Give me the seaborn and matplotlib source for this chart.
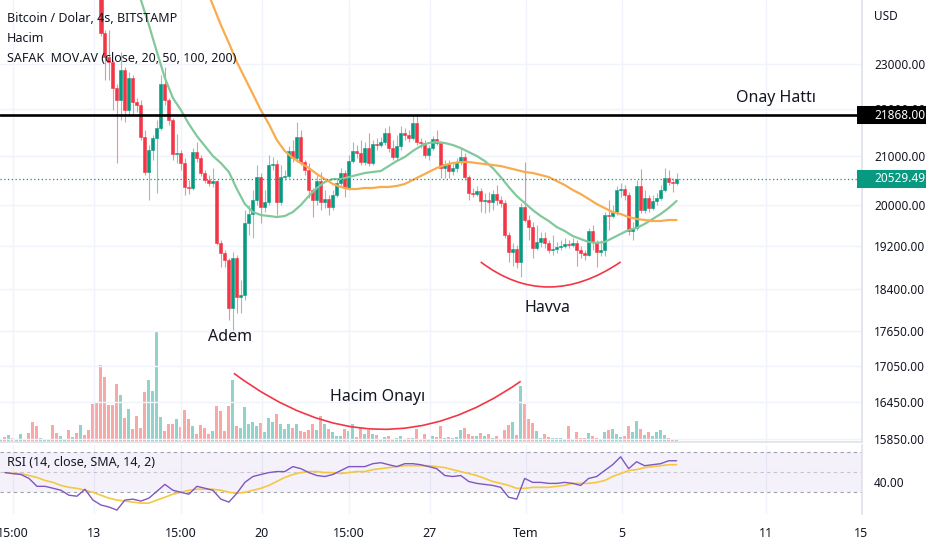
import numpy as np
import pandas as pd
import matplotlib
matplotlib.use("Agg")
import matplotlib.pyplot as plt
import matplotlib.dates as mdates
from matplotlib.path import Path
from matplotlib.patches import PathPatch
from matplotlib.lines import Line2D
from matplotlib.transforms import blended_transform_factory
from matplotlib.ticker import FixedLocator, FuncFormatter, NullLocator
import seaborn as sns

# ---- values (4h bars, BTC/USD Bitstamp) ----
first_open = 30100
close = [
    30250, 30150, 30320, 30200, 30260, 30380, 30150, 29900, 29400, 29150,
    29250, 29300, 29380, 28900, 28650, 28750, 28800, 28400, 28480, 28100,
    28250, 27600, 27100, 26600, 25200, 23725, 23166, 23052, 22464, 22198,
    22869, 21978, 22688, 22154, 22088, 21396, 20666, 21122, 21375, 21590,
    22554, 22198, 21762, 21040, 21060, 20851, 20362, 20341, 21080, 20956,
    20646, 20503, 20442, 20482, 19260, 19069, 18937, 18056, 18974, 18254,
    18290, 19646, 19822, 20100, 20564, 19960, 20060, 20810, 20830, 20060,
    20564, 20585, 21101, 20956, 21396, 20872, 20708, 20301, 20100, 20482,
    20060, 20120, 19960, 20200, 20442, 20646, 20341, 20893, 21101, 21060,
    20872, 21164, 20851, 21250, 21229, 21292, 21482, 21164, 20977, 21207,
    21482, 21440, 21375, 21698, 21292, 21271, 21019, 21164, 21354, 21271,
    20749, 20830, 20687, 20749, 20872, 20977, 20564, 20240, 20220, 20280,
    20080, 20100, 20060, 20220, 20100, 20040, 19413, 19088, 19145, 18900,
    19960, 19705, 19568, 19163, 19279, 19355, 19260, 19126, 19145, 19182,
    19201, 19239, 19220, 19260, 19126, 19069, 19031, 19490, 19279, 19088,
    19126, 19802, 19783, 19861, 20301, 20321, 20200, 19490, 19549, 20382,
    19901, 20140, 19940, 20080, 20140, 20301, 20544, 20462, 20442, 20529.49,
]
high = [
    30400, 30350, 30450, 30400, 30350, 30500, 30420, 30200, 29950, 29500,
    29350, 29400, 29450, 29400, 28950, 28850, 28900, 28850, 28600, 28500,
    28350, 28300, 27700, 27150, 26650, 25400, 23796, 23790, 23100, 22554,
    23283, 22937, 22824, 22757, 22242, 22198, 21546, 21228, 21440, 21762,
    22757, 22937, 22242, 21805, 21460, 21122, 20956, 20503, 21164, 21290,
    21019, 20708, 20605, 20749, 20503, 19317, 19126, 18974, 19088, 19031,
    18564, 19901, 20000, 20301, 20810, 20646, 20301, 21019, 20977, 20914,
    20810, 20708, 21207, 21333, 21720, 21546, 20914, 20851, 20341, 20605,
    20667, 20301, 20200, 20301, 20544, 20749, 20708, 21019, 21290, 21228,
    21333, 21290, 21482, 21333, 21375, 21396, 21590, 21640, 21333, 21440,
    21640, 21590, 21546, 21870, 21890, 21375, 21333, 21228, 21418, 21546,
    21310, 20914, 20914, 20851, 20956, 21186, 21060, 20605, 20341, 20382,
    20341, 20240, 20261, 20301, 20402, 20180, 20100, 19472, 19260, 19222,
    20040, 20872, 19802, 19666, 19607, 19472, 19472, 19317, 19413, 19279,
    19317, 19355, 19317, 19355, 19317, 19201, 19126, 19549, 19607, 19317,
    19317, 19861, 20100, 20000, 20382, 20442, 20402, 20261, 19666, 20503,
    20730, 20301, 20200, 20200, 20240, 20402, 20749, 20708, 20544, 20646,
]
low = [
    30000, 30050, 30100, 30150, 30100, 30200, 30080, 29850, 29300, 29050,
    29100, 29150, 29200, 28800, 28550, 28600, 28650, 28300, 28350, 28000,
    28050, 27500, 26950, 26500, 25000, 23650, 22644, 22644, 21978, 20851,
    21762, 21720, 21860, 21860, 21930, 21333, 20605, 20100, 20914, 20240,
    21546, 22088, 21655, 20914, 20851, 20708, 20200, 20220, 20301, 20872,
    20585, 20442, 20382, 20362, 19222, 18806, 18806, 17842, 17666, 17966,
    17966, 18200, 19413, 19355, 20000, 19646, 19861, 20000, 20708, 19802,
    20000, 20503, 20544, 20872, 20872, 20810, 20605, 20140, 19763, 20000,
    19901, 19940, 19802, 19901, 20160, 20382, 20160, 20301, 20851, 20956,
    20810, 20810, 20790, 20810, 21122, 21186, 21228, 21080, 20914, 20914,
    21122, 21333, 21290, 21333, 21228, 21164, 20956, 20914, 21122, 21228,
    20544, 20544, 20544, 20605, 20667, 20810, 20503, 20100, 20160, 20180,
    19861, 19842, 19861, 19901, 20000, 19960, 19355, 18900, 18825, 18787,
    18620, 19666, 19317, 18974, 19126, 19182, 19163, 19069, 19031, 19069,
    19126, 19163, 19163, 19182, 18825, 18974, 18937, 19012, 19126, 18806,
    19012, 19012, 19510, 19743, 19802, 20160, 20100, 19413, 19317, 19510,
    19842, 19842, 19861, 19901, 20000, 20100, 20261, 20402, 20261, 20402,
]
volume = [
    330, 500, 730, 430, 330, 830, 270, 900, 2000, 1570,
    430, 230, 270, 1670, 900, 570, 230, 1230, 500, 900,
    1670, 670, 1170, 3830, 3900, 7730, 6500, 3730, 3670, 5770,
    4670, 2430, 3330, 1330, 2570, 1430, 5000, 6230, 5070, 11000,
    2500, 1070, 1770, 1830, 2270, 1500, 3170, 2270, 1570, 830,
    1670, 1430, 830, 1070, 3570, 3070, 1070, 3570, 6230, 1630,
    1400, 3500, 1830, 2000, 1570, 1930, 1000, 2400, 2000, 2830,
    1770, 1270, 1830, 1430, 1830, 1070, 1000, 1170, 1830, 1170,
    2600, 1770, 1330, 1000, 570, 570, 1330, 1070, 1770, 500,
    1430, 770, 1230, 830, 670, 330, 500, 570, 330, 430,
    570, 330, 400, 430, 1330, 330, 770, 330, 570, 500,
    1600, 430, 500, 430, 500, 1170, 1400, 830, 570, 570,
    900, 570, 830, 430, 570, 330, 1230, 1670, 2000, 670,
    5570, 3830, 2330, 1900, 1070, 430, 830, 500, 430, 430,
    430, 270, 1570, 270, 1000, 430, 400, 900, 570, 400,
    330, 1000, 1230, 1270, 770, 500, 570, 1570, 1000, 2070,
    1270, 670, 1000, 570, 1000, 1170, 670, 400, 330, 270,
]
# moving averages, one value every 2nd bar (MA20 from bar 33, MA50 from bar 51)
ma20 = [
    25006, 24516, 23914, 23283, 22688, 22242, 21978, 21675, 21418, 21207,
    20998, 20851, 20667, 20321, 20020, 19861, 19802, 19783, 19763, 19783,
    19861, 20000, 20180, 20341, 20462, 20523, 20523, 20564, 20605, 20646,
    20667, 20687, 20790, 20893, 20977, 21101, 21207, 21270, 21290, 21270,
    21228, 21164, 21080, 20998, 20893, 20749, 20564, 20362, 20180, 20040,
    19901, 19783, 19685, 19568, 19491, 19394, 19336, 19279, 19260, 19279,
    19355, 19433, 19510, 19549, 19627, 19724, 19822, 19940, 20080,
]
ma50 = [
    24884, 24394, 23914, 23491, 23052, 22688, 22331, 21978, 21675, 21333,
    21101, 20956, 20851, 20749, 20626, 20523, 20422, 20362, 20321, 20321,
    20341, 20341, 20362, 20362, 20382, 20422, 20503, 20585, 20667, 20749,
    20810, 20851, 20872, 20872, 20851, 20830, 20810, 20790, 20749, 20708,
    20667, 20646, 20605, 20564, 20482, 20402, 20301, 20220, 20120, 20020,
    19940, 19861, 19822, 19763, 19724, 19705, 19685, 19685, 19705, 19705,
]
# RSI and its SMA, one value every 2nd bar from bar 1
rsi = [
    49.5, 48.5, 47.6, 43.7, 35.9, 35.9, 34.0, 32.0, 27.1, 26.1,
    33.0, 22.3, 17.4, 15.4, 12.4, 22.3, 23.2, 21.3, 24.2, 31.0,
    37.8, 32.0, 30.0, 28.1, 35.9, 34.0, 32.0, 23.2, 20.3, 29.0,
    39.8, 45.6, 47.6, 49.5, 50.5, 50.5, 55.4, 53.4, 49.5, 46.6,
    45.6, 47.6, 51.5, 55.4, 55.4, 55.4, 58.3, 59.3, 57.3, 55.4,
    58.3, 58.3, 57.3, 55.4, 53.4, 46.6, 45.6, 46.6, 40.7, 38.8,
    37.8, 36.8, 34.9, 25.1, 23.2, 43.7, 39.8, 39.8, 38.8, 38.8,
    39.8, 38.8, 36.8, 43.7, 45.6, 51.5, 57.3, 65.1, 53.4, 60.2,
    56.3, 57.3, 58.3, 61.2, 61.2,
]
rsi_ma = [
    49.5, 48.5, 48.5, 46.6, 44.7, 41.7, 39.8, 36.8, 34.9, 33.9,
    32.0, 30.0, 27.1, 24.2, 22.3, 21.3, 20.3, 19.3, 19.3, 22.3,
    25.1, 28.1, 30.0, 32.0, 33.0, 33.0, 33.0, 32.0, 30.0, 29.0,
    30.0, 32.0, 33.9, 36.8, 40.7, 44.7, 47.6, 49.5, 50.5, 50.5,
    49.5, 49.5, 48.5, 49.5, 50.5, 50.5, 52.4, 53.4, 54.4, 55.4,
    56.3, 56.3, 56.3, 56.3, 55.4, 54.4, 52.4, 50.5, 48.5, 46.6,
    43.7, 40.7, 38.8, 36.8, 33.9, 33.9, 34.9, 34.9, 34.9, 35.9,
    36.8, 38.8, 38.8, 38.8, 39.8, 41.7, 45.6, 48.5, 51.5, 52.4,
    54.4, 55.4, 56.3, 57.3, 57.3,
]

price_ticks = [23000, 22000, 21000, 20000, 19200, 18400, 17650, 17050, 16450, 15850]
date_ticks = ["2022-06-09 15:00", "2022-06-13 00:00", "2022-06-16 15:00", "2022-06-20 00:00",
              "2022-06-23 15:00", "2022-06-27 00:00", "2022-07-01 00:00", "2022-07-05 00:00",
              "2022-07-11 00:00", "2022-07-15 00:00"]
date_labels = ["15:00", "13", "15:00", "20", "15:00", "27", "Tem", "5", "11", "15"]
onay_level = 21868.00
last_price = 20529.49

GREEN, RED = "#089981", "#f23645"
TXT = "#131722"

bar_times = pd.date_range("2022-06-09 03:00", periods=len(close), freq="4h")
opens = [first_open] + close[:-1]
rising = [c >= o for o, c in zip(opens, close)]
body_bottom = [min(o, c) for o, c in zip(opens, close)]
body_height = [abs(c - o) for o, c in zip(opens, close)]

sns.set_theme(style="white")
plt.rcParams["font.family"] = ["Noto Sans", "DejaVu Sans"]

fig = plt.figure(figsize=(9.32, 5.5), dpi=100)
main_rect = [0, 1 - 442 / 550, 862 / 932, 442 / 550]
rsi_rect = [0, 1 - 514 / 550, 862 / 932, 69 / 550]
ax_vol = fig.add_axes(main_rect)
ax = fig.add_axes(main_rect, sharex=ax_vol)
ax_rsi = fig.add_axes(rsi_rect, sharex=ax_vol)
ax.set_facecolor("none")

# volume overlay
vol_colors = ["#92d2cc" if r else "#f7a9a7" for r in rising]
ax_vol.bar(bar_times, volume, width=0.125, color=vol_colors, linewidth=0)
ax_vol.set_ylim(0, 44200)
ax_vol.axis("off")

# candles
ax.set_yscale("log")
wick_colors = ["#7fcdbf" if r else "#f68f97" for r in rising]
body_colors = [GREEN if r else RED for r in rising]
ax.vlines(bar_times, low, high, colors=wick_colors, linewidth=0.8, zorder=2)
ax.bar(bar_times, body_height, bottom=body_bottom, width=0.13,
       color=body_colors, edgecolor=body_colors, linewidth=0.4, zorder=3)

sns.lineplot(x=bar_times[33::2], y=ma20, ax=ax, color="#81c99b", linewidth=1.6, zorder=4)
sns.lineplot(x=bar_times[51::2], y=ma50, ax=ax, color="#f9ac4e", linewidth=1.6, zorder=4)

ax.axhline(onay_level, color="black", linewidth=1.9, zorder=5)
ax.axhline(last_price, color=GREEN, linewidth=0.9, linestyle=(0, (1, 2)), zorder=5)


def red_arc(transform, times, values, log=False):
    xs = mdates.date2num(pd.to_datetime(times))
    cx = 2 * xs[1] - (xs[0] + xs[2]) / 2
    if log:
        cy = np.exp(2 * np.log(values[1]) - (np.log(values[0]) + np.log(values[2])) / 2)
    else:
        cy = 2 * values[1] - (values[0] + values[2]) / 2
    path = Path([(xs[0], values[0]), (cx, cy), (xs[2], values[2])],
                [Path.MOVETO, Path.CURVE3, Path.CURVE3])
    ax.add_patch(PathPatch(path, fill=False, edgecolor=RED, linewidth=1.2,
                           transform=transform, zorder=6))


# both arcs drawn on the top axes so the grid does not cut them
red_arc(ax.transData, ["2022-06-29 03:00", "2022-07-01 23:00", "2022-07-04 23:00"],
        [18900, 18436, 18900], log=True)
red_arc(ax_vol.transData, ["2022-06-18 20:00", "2022-06-24 20:00", "2022-06-30 19:00"],
        [6870, 1270, 6070])

ann = dict(fontsize=11.5, color=TXT, ha="center", va="center", zorder=7)
ax.text(pd.Timestamp("2022-06-18 16:00"), 17542, "Adem", **ann)
ax.text(pd.Timestamp("2022-07-01 22:00"), 18056, "Havva", **ann)
ax.text(pd.Timestamp("2022-07-11 10:00"), 22242, "Onay Hattı", **ann)
ax.text(mdates.date2num(pd.Timestamp("2022-06-24 20:00")), 4470, "Hacim Onayı",
        transform=ax_vol.transData, **ann)

# price scale on the right
ax.set_ylim(15806, 24516)
ax.yaxis.tick_right()
ax.yaxis.set_major_locator(FixedLocator(price_ticks))
ax.yaxis.set_major_formatter(FuncFormatter(lambda v, p: f"{v:.2f}"))
ax.yaxis.set_minor_locator(NullLocator())
ax.tick_params(axis="y", length=0, pad=8.6, labelsize=8.5, labelcolor=TXT)
ax.tick_params(axis="x", length=0, labelbottom=False)
ax.grid(True, color="#f0f3fa", linewidth=1)
ax.set_axisbelow(True)
ax.set_xlabel("")
ax.set_ylabel("")
for side in ["top", "left"]:
    ax.spines[side].set_visible(False)
for side in ["right", "bottom"]:
    ax.spines[side].set_color("#e0e3eb")

tr = blended_transform_factory(fig.transFigure, ax.transData)
for level, col, txt in [(onay_level, "black", f"{onay_level:.2f}"), (last_price, GREEN, f"{last_price:.2f}")]:
    ax.add_line(Line2D([857 / 932, 926 / 932], [level, level], transform=tr, color=col,
                       linewidth=13, solid_capstyle="butt", clip_on=False, zorder=8))
    ax.text(874 / 932, level, txt, transform=tr, color="white", fontsize=8.5,
            ha="left", va="center", clip_on=False, zorder=9)

# RSI pane
ax_rsi.axhspan(30, 70, color="#7e57c2", alpha=0.08, linewidth=0)
for lvl, a in [(70, 0.9), (50, 0.5), (30, 0.9)]:
    ax_rsi.axhline(lvl, color="#9598a1", linewidth=0.8, linestyle=(0, (3, 3)), alpha=a)
sns.lineplot(x=bar_times[1::2], y=rsi_ma, ax=ax_rsi, color="#f5c842", linewidth=1.2)
sns.lineplot(x=bar_times[1::2], y=rsi, ax=ax_rsi, color="#7e57c2", linewidth=1.0)
ax_rsi.set_ylim(8.5, 76.8)
ax_rsi.yaxis.tick_right()
ax_rsi.set_yticks([40])
ax_rsi.set_yticklabels(["40.00"])
ax_rsi.tick_params(axis="y", length=0, pad=8.6, labelsize=8.5, labelcolor=TXT)
ax_rsi.grid(True, axis="x", color="#f0f3fa", linewidth=1)
ax_rsi.set_axisbelow(True)
ax_rsi.set_xlabel("")
ax_rsi.set_ylabel("")
for side in ["top", "left", "bottom"]:
    ax_rsi.spines[side].set_visible(False)
ax_rsi.spines["right"].set_color("#e0e3eb")

ax_rsi.set_xticks(pd.to_datetime(date_ticks))
ax_rsi.set_xticklabels(date_labels)
ax_rsi.tick_params(axis="x", length=0, pad=9.5, labelsize=9, labelcolor=TXT)
for lbl in ax_rsi.get_xticklabels():
    if lbl.get_text() == "Tem":
        lbl.set_fontweight("bold")
ax_rsi.set_xlim(pd.Timestamp("2022-06-09 02:00"), pd.Timestamp("2022-07-15 00:30"))

# header texts
fig.text(7 / 932, 1 - 18 / 550, "Bitcoin / Dolar, 4s, BITSTAMP", fontsize=9, color=TXT, va="center")
fig.text(7 / 932, 1 - 38 / 550, "Hacim", fontsize=9, color=TXT, va="center")
fig.text(7 / 932, 1 - 58 / 550, "SAFAK  MOV.AV (close, 20, 50, 100, 200)", fontsize=9, color=TXT, va="center")
fig.text(7 / 932, 1 - 463 / 550, "RSI (14, close, SMA, 14, 2)", fontsize=9, color=TXT, va="center")
fig.text(874 / 932, 1 - 16 / 550, "USD", fontsize=8.5, color=TXT, va="center")

fig.savefig("out.png", dpi=100)
